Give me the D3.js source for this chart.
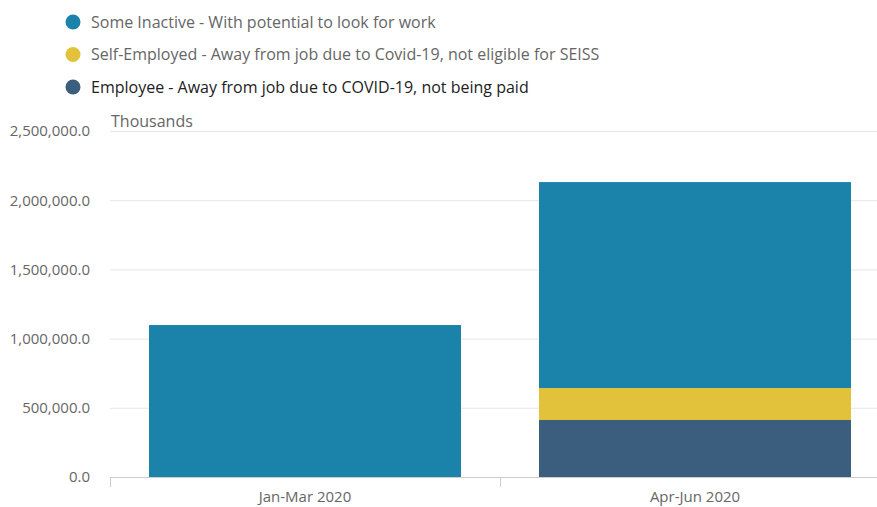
<!DOCTYPE html>
<html>
<head>
<meta charset="utf-8">
<script src="https://cdn.jsdelivr.net/npm/d3@7"></script>
<style>
  body { margin: 0; background: #fff; }
  svg { display: block; font-family: "Open Sans", sans-serif; }
</style>
</head>
<body>
<svg id="chart" width="877" height="507"></svg>
<script>
// Chart data
const periods = ["Jan-Mar 2020", "Apr-Jun 2020"];
const seriesNames = [
  "Some Inactive - With potential to look for work",
  "Self-Employed - Away from job due to Covid-19, not eligible for SEISS",
  "Employee - Away from job due to COVID-19, not being paid"
];
const employeeValues = [0, 412000];
const selfEmployedValues = [0, 231000];
const inactiveValues = [1098000, 1488000];
const yTicks = [0, 500000, 1000000, 1500000, 2000000, 2500000];
const colors = ["#1b83aa", "#e2c23a", "#3b5e7e"];

const svg = d3.select("#chart");
const chartWidth = 877;
const plotLeft = 110, plotRight = 890, plotTop = 131, plotBottom = 477;

// stack from the bottom: employee, self-employed, inactive
const keys = ["employee", "self", "inactive"];
const rows = periods.map((p, i) => ({
  period: p,
  employee: employeeValues[i],
  self: selfEmployedValues[i],
  inactive: inactiveValues[i]
}));
const stacked = d3.stack().keys(keys)(rows);
const colorOf = { employee: colors[2], self: colors[1], inactive: colors[0] };

const x = d3.scaleBand()
  .domain(periods)
  .range([plotLeft, plotRight])
  .paddingInner(0.2)
  .paddingOuter(0.1);

const y = d3.scaleLinear()
  .domain([0, 2500000])
  .range([plotBottom, plotTop]);

// Gridlines
svg.append("g")
  .selectAll("line")
  .data(yTicks.filter(d => d > 0))
  .join("line")
  .attr("x1", plotLeft)
  .attr("x2", chartWidth)
  .attr("y1", d => y(d) + 0.5)
  .attr("y2", d => y(d) + 0.5)
  .style("stroke", "#e6e6e6");

// Y-axis labels
const yAxis = svg.append("g")
  .attr("transform", `translate(${plotLeft - 20},0)`)
  .call(d3.axisLeft(y).tickValues(yTicks).tickSize(0).tickPadding(0)
    .tickFormat(d => d3.format(",.1f")(d)));
yAxis.select(".domain").remove();
yAxis.selectAll("text")
  .style("font-family", "\"Open Sans\", sans-serif")
  .style("font-size", "15px")
  .style("fill", "#666");

// Bars
svg.append("g")
  .selectAll("g")
  .data(stacked)
  .join("g")
  .attr("fill", d => colorOf[d.key])
  .selectAll("rect")
  .data(d => d)
  .join("rect")
  .attr("x", d => x(d.data.period))
  .attr("width", x.bandwidth())
  .attr("y", d => y(d[1]))
  .attr("height", d => y(d[0]) - y(d[1]));

// X-axis baseline and ticks at the band edges
const step = x.step();
const edges = periods.map(p => x(p) - step * x.paddingInner() / 2).concat([plotRight]);
svg.append("line")
  .attr("x1", plotLeft).attr("x2", chartWidth)
  .attr("y1", plotBottom + 0.5).attr("y2", plotBottom + 0.5)
  .style("stroke", "#ccc");
svg.append("g")
  .selectAll("line")
  .data(edges)
  .join("line")
  .attr("x1", d => Math.round(d) + 0.5)
  .attr("x2", d => Math.round(d) + 0.5)
  .attr("y1", plotBottom)
  .attr("y2", plotBottom + 10)
  .style("stroke", "#ccc");

const xAxis = svg.append("g")
  .attr("transform", `translate(0,${plotBottom})`)
  .call(d3.axisBottom(x).tickSize(0).tickPadding(14));
xAxis.select(".domain").remove();
xAxis.selectAll("text")
  .style("font-family", "\"Open Sans\", sans-serif")
  .style("font-size", "15px")
  .style("fill", "#666");

// Y-axis title
svg.append("text")
  .attr("x", plotLeft + 1)
  .attr("y", 127)
  .text("Thousands")
  .style("font-size", "16px")
  .style("fill", "#666");

// Legend
const legend = svg.append("g")
  .selectAll("g")
  .data(seriesNames)
  .join("g")
  .attr("transform", (d, i) => `translate(73,${22 + i * 32.5})`);
legend.append("circle")
  .attr("r", 7.5)
  .attr("fill", (d, i) => colors[i]);
legend.append("text")
  .attr("x", 18)
  .attr("dy", "0.35em")
  .text(d => d)
  .style("font-size", "16px")
  .style("fill", (d, i) => i === 2 ? "#222" : "#666");
</script>
</body>
</html>
